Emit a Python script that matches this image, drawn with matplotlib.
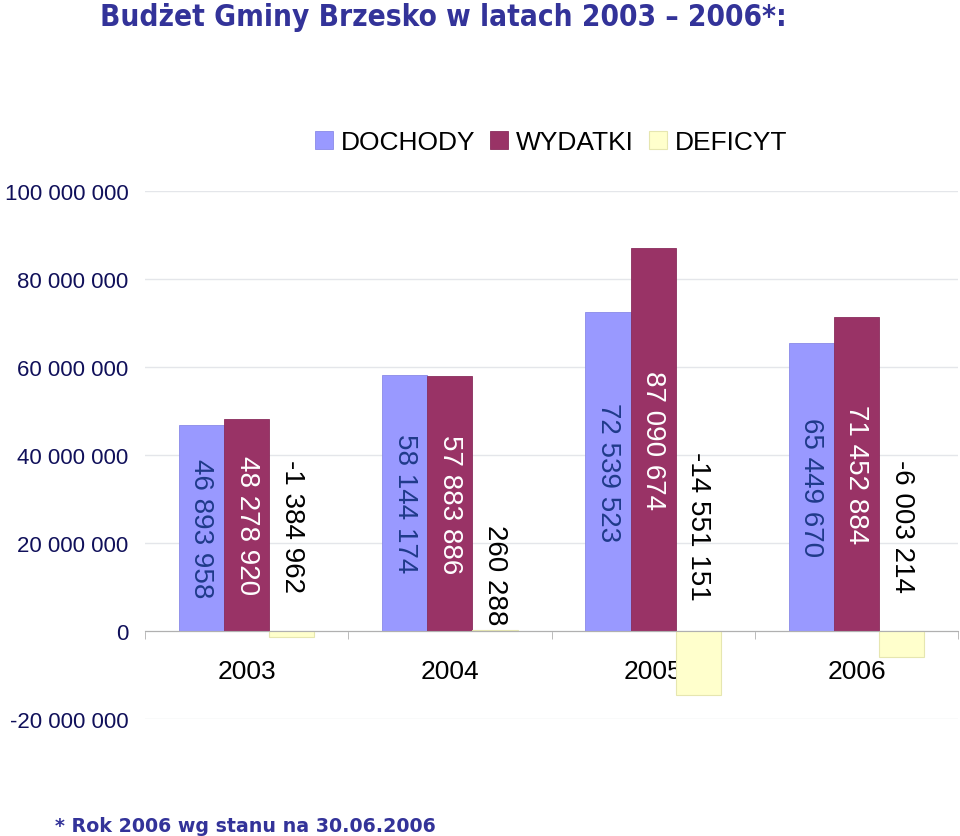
import numpy as np
import matplotlib
matplotlib.use("Agg")
import matplotlib.pyplot as plt
from matplotlib.ticker import FixedLocator, FuncFormatter

# data
years = ["2003", "2004", "2005", "2006"]
dochody = [46893958, 58144174, 72539523, 65449670]
wydatki = [48278920, 57883886, 87090674, 71452884]
deficyt = [-1384962, 260288, -14551151, -6003214]
series_names = ["DOCHODY", "WYDATKI", "DEFICYT"]
yticks = [-20000000, 0, 20000000, 40000000, 60000000, 80000000, 100000000]

plt.rcParams['font.family'] = ['Liberation Sans', 'DejaVu Sans']


def fmt(v):
    return f"{int(v):,}".replace(",", " ")


fig = plt.figure(figsize=(9.6, 8.37), dpi=100)
ax = fig.add_axes([0.151, 0.1398, 0.847, 0.6308])

x = np.arange(len(years))
w = 0.222
b1 = ax.bar(x - w, dochody, w, color='#9999FF', edgecolor='#8a8ae8', linewidth=0.6, label=series_names[0], zorder=3)
b2 = ax.bar(x, wydatki, w, color='#993366', edgecolor='#8a2d5c', linewidth=0.6, label=series_names[1], zorder=3)
b3 = ax.bar(x + w, deficyt, w, color='#FFFFCC', edgecolor='#e6e6b0', linewidth=0.8, label=series_names[2], zorder=3)

# value labels, rotated to read top-down
for xi, v in zip(x - w, dochody):
    ax.text(xi, v / 2, fmt(v), rotation=-90, ha='center', va='center',
            fontsize=20, color='#1F3A8A', zorder=5)
for xi, v in zip(x, wydatki):
    ax.text(xi, v / 2, fmt(v), rotation=-90, ha='center', va='center',
            fontsize=20, color='white', zorder=5)
for xi, v in zip(x + w, deficyt):
    if v > 0:
        ax.annotate(fmt(v), (xi, v), xytext=(0, 4), textcoords='offset points',
                    rotation=-90, ha='center', va='bottom', fontsize=20, color='black', zorder=5)
    else:
        ax.text(xi, 24000000, fmt(v), rotation=-90, ha='center', va='center',
                fontsize=20, color='black', zorder=5)

ax.set_xlim(-0.5, len(years) - 0.5)
ax.set_ylim(-20000000, 100000000)

ax.yaxis.set_major_locator(FixedLocator(yticks))
ax.yaxis.set_major_formatter(FuncFormatter(lambda v, p: fmt(v)))
ax.tick_params(axis='y', length=0, pad=12, labelsize=16, labelcolor='#10105A')
ax.grid(axis='y', color='#e4e6ea', linewidth=1, zorder=0)

ax.spines['bottom'].set_position(('data', 0))
ax.spines['bottom'].set_color('#b0b0b0')
ax.spines['bottom'].set_zorder(4)
for s in ['left', 'right', 'top']:
    ax.spines[s].set_visible(False)

ax.set_xticks(x)
ax.set_xticklabels(years)
ax.set_xticks(np.arange(-0.5, len(years)), minor=True)
ax.tick_params(axis='x', which='major', length=0, pad=20, labelsize=19, labelcolor='black')
ax.tick_params(axis='x', which='minor', length=6, color='#b0b0b0', direction='out')

fig.legend(handles=[b1, b2, b3], loc='center', bbox_to_anchor=(0.574, 0.829), ncol=3,
           frameon=False, fontsize=19, handlelength=0.7, handleheight=0.7,
           handletextpad=0.3, columnspacing=0.55)

fig.text(0.104, 0.979, "Budżet Gminy Brzesko w latach 2003 – 2006*:", fontsize=21.3,
         fontweight='bold', color='#333399', family=['DejaVu Sans'], fontstretch='condensed',
         ha='left', va='center')
fig.text(0.057, 0.013, "* Rok 2006 wg stanu na 30.06.2006", fontsize=13.7,
         fontweight='bold', color='#333399', family=['DejaVu Sans'], ha='left', va='center')

fig.savefig("out.png", dpi=100)
